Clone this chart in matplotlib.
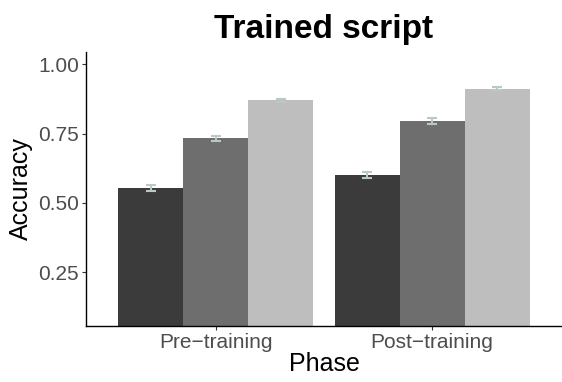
import numpy as np
import matplotlib.pyplot as plt

plt.rcParams['font.family'] = ['Liberation Sans', 'DejaVu Sans']

phases = ['Pre\u2212training', 'Post\u2212training']
groups = ['g1', 'g2', 'g3']
acc = [[0.552, 0.602],
       [0.733, 0.796],
       [0.870, 0.913]]
err = [[0.011, 0.011],
       [0.010, 0.011],
       [0.004, 0.004]]
colors = ['#3b3b3b', '#6e6e6e', '#bebebe']

fig = plt.figure(figsize=(5.62, 3.82), dpi=100)
ax = fig.add_axes([86 / 562, 1 - 326 / 382, 1 - 86 / 562, (326 - 52) / 382])

x = np.arange(len(phases)) + 1
w = 0.3
for i in range(len(groups)):
    xs = x + (i - 1) * w
    ax.bar(xs, acc[i], width=w, color=colors[i], zorder=2)
    ax.errorbar(xs, acc[i], yerr=err[i], fmt='none', ecolor='#bac8c8',
                elinewidth=1.5, capsize=3.5, capthick=1.5, zorder=3)

ax.set_xlim(0.4, 2.6)
ax.set_ylim(0.055, 1.045)
ax.set_yticks([0.25, 0.5, 0.75, 1.0])
ax.set_yticklabels(['0.25', '0.50', '0.75', '1.00'])
ax.set_xticks(x)
ax.set_xticklabels(phases)
ax.tick_params(axis='both', labelsize=15, labelcolor='#4d4d4d', color='#333333',
               length=3, width=0.8, pad=2)
for s in ['top', 'right']:
    ax.spines[s].set_visible(False)
for s in ['left', 'bottom']:
    ax.spines[s].set_linewidth(1.0)
    ax.spines[s].set_color('black')

ax.set_xlabel('Phase', fontsize=18, labelpad=0)
ax.set_ylabel('Accuracy', fontsize=18, labelpad=4)
ax.set_title('Trained script', fontsize=24, fontweight='bold', pad=10)

fig.savefig('out.png', dpi=100)
